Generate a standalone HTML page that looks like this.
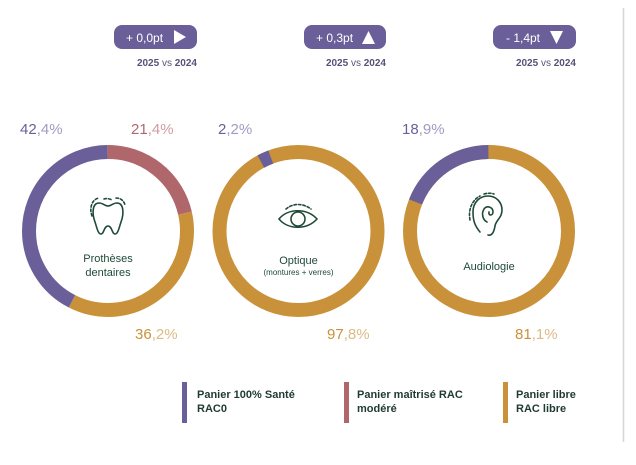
<!DOCTYPE html>
<html><head><meta charset="utf-8"><style>
body{margin:0;background:#fff;width:636px;height:460px;overflow:hidden;font-family:"Liberation Sans",sans-serif;}
svg text{font-family:"Liberation Sans",sans-serif;}
</style></head><body>
<svg width="636" height="460" viewBox="0 0 636 460" xmlns="http://www.w3.org/2000/svg">
<line x1="623.5" y1="8" x2="623.5" y2="442" stroke="#d6d6d6" stroke-width="1.5"/>
<!-- badges -->
<g fill="#6b5f9a">
<rect x="114" y="25" width="83" height="24" rx="8"/>
<rect x="304" y="25" width="82" height="24" rx="8"/>
<rect x="493" y="25" width="83" height="24" rx="8"/>
</g>
<g fill="#fff" font-size="12">
<text x="126" y="42">+ 0,0pt</text>
<text x="316" y="42">+ 0,3pt</text>
<text x="506" y="42">- 1,4pt</text>
</g>
<polygon points="174,30 174,44 186,37" fill="#fff"/>
<polygon points="362,44 375,44 368.5,31" fill="#fff"/>
<polygon points="550,31 563,31 556.5,44" fill="#fff"/>
<g font-size="10" fill="#5a5078" text-anchor="end">
<text x="197" y="66"><tspan font-weight="bold">2025</tspan> vs <tspan font-weight="bold">2024</tspan></text>
<text x="386" y="66"><tspan font-weight="bold">2025</tspan> vs <tspan font-weight="bold">2024</tspan></text>
<text x="576" y="66"><tspan font-weight="bold">2025</tspan> vs <tspan font-weight="bold">2024</tspan></text>
</g>
<!-- donuts -->
<g fill="none" stroke-width="14">
<g transform="rotate(-90 108 231)">
<circle cx="108" cy="231" r="79" pathLength="100" stroke="#b0676c" stroke-dasharray="21.4 78.6"/>
<circle cx="108" cy="231" r="79" pathLength="100" stroke="#c9923a" stroke-dasharray="36.2 63.8" stroke-dashoffset="-21.4"/>
<circle cx="108" cy="231" r="79" pathLength="100" stroke="#6b5f9a" stroke-dasharray="42.4 57.6" stroke-dashoffset="-57.6"/>
</g>
<g transform="rotate(-90 298.5 231)">
<circle cx="298.5" cy="231" r="79" stroke="#c9923a"/>
<circle cx="298.5" cy="231" r="79" pathLength="100" stroke="#6b5f9a" stroke-dasharray="2.2 97.8" stroke-dashoffset="-92.2"/>
</g>
<g transform="rotate(-90 489 231)">
<circle cx="489" cy="231" r="79" stroke="#c9923a"/>
<circle cx="489" cy="231" r="79" pathLength="100" stroke="#6b5f9a" stroke-dasharray="18.9 81.1" stroke-dashoffset="-81.1"/>
</g>
</g>
<!-- icons -->
<g fill="none" stroke="#1f4a38" stroke-width="1.6" stroke-linecap="round">
<path d="M99 203 C92 203 92 214 95 222 C97 228 98 234 101 234 C104 234 104 226 108 226 C112 226 112 234 115 234 C118 234 119 228 121 222 C124 214 124 203 117 203 C113 203 111 206 108 206 C105 206 103 203 99 203 Z"/>
<path d="M92 216 C89 208 92 199 99 198 M104 199 C107 198 110 199 112 200 M116 198 C121 198 124 201 125 205" stroke-dasharray="2.5 2"/>
<path d="M279 219 C288 208 307 208 317 219 C307 230 288 230 279 219 Z"/>
<circle cx="298" cy="219" r="7"/>
<path d="M286 209 C293 203 303 203 311 209" stroke-dasharray="2.5 2"/>
<path d="M480 232 C475 226 473 221 473 212 C473 202 480 196 488 196 C496 196 502 202 502 210 C502 218 496 220 495 226 C494 232 492 236 488 235"/>
<path d="M487 222 C483 220 481 214 484 209 C487 205 493 207 493 212 C493 216 488 216 489 212"/>
<path d="M470 220 C468 210 472 200 480 196 M484 194 C488 193 491 193 494 194" stroke-dasharray="2.5 2"/>
</g>
<g fill="#1f4a38" text-anchor="middle" font-size="11">
<text x="108" y="262">Prothèses</text>
<text x="108" y="276">dentaires</text>
<text x="298.5" y="264">Optique</text>
<text x="298.5" y="275" font-size="8">(montures + verres)</text>
<text x="489" y="270">Audiologie</text>
</g>
<!-- percentages -->
<g font-size="15">
<text x="20" y="134" fill="#6b5f9a">42<tspan fill="#a39bc0">,4%</tspan></text>
<text x="131" y="134" fill="#b0676c">21<tspan fill="#cf9da0">,4%</tspan></text>
<text x="218" y="134" fill="#6b5f9a">2<tspan fill="#a39bc0">,2%</tspan></text>
<text x="402" y="134" fill="#6b5f9a">18<tspan fill="#a39bc0">,9%</tspan></text>
<text x="135" y="339" fill="#c9923a">36<tspan fill="#ddbb84">,2%</tspan></text>
<text x="327" y="339" fill="#c9923a">97<tspan fill="#ddbb84">,8%</tspan></text>
<text x="515" y="339" fill="#c9923a">81<tspan fill="#ddbb84">,1%</tspan></text>
</g>
<!-- legend -->
<rect x="182" y="382" width="5" height="41" fill="#6b5f9a"/>
<rect x="344" y="382" width="5" height="41" fill="#b0676c"/>
<rect x="503" y="382" width="5" height="41" fill="#c9923a"/>
<g font-size="11" fill="#1f3a2f" font-weight="bold">
<text x="197" y="398">Panier 100% Santé</text>
<text x="197" y="412">RAC0</text>
<text x="357" y="398">Panier maîtrisé RAC</text>
<text x="357" y="412">modéré</text>
<text x="516" y="398">Panier libre</text>
<text x="516" y="412">RAC libre</text>
</g>
</svg>
</body></html>
